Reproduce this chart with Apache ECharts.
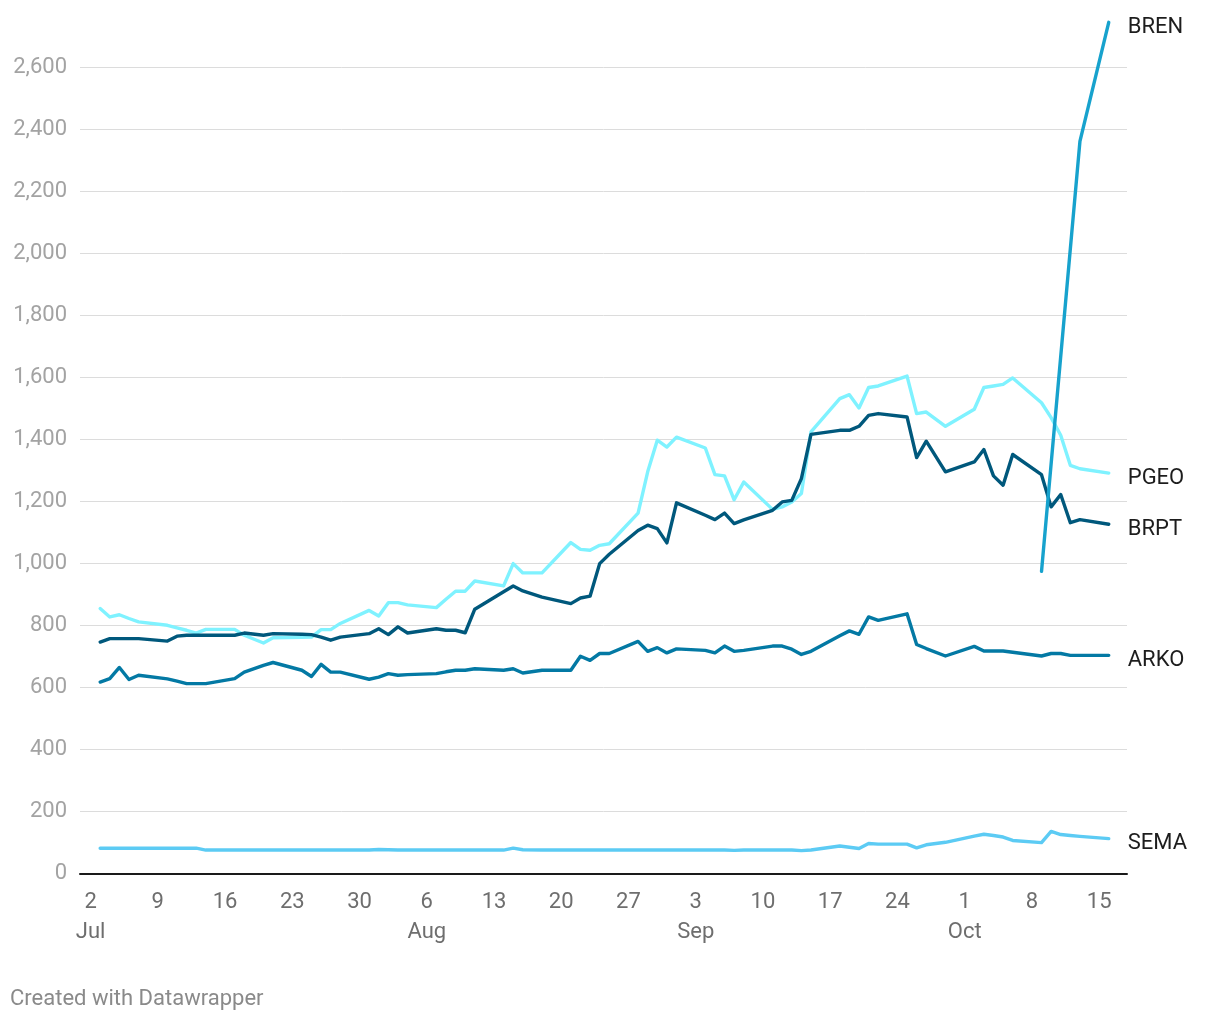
<!DOCTYPE html>
<html>
<head>
<meta charset="utf-8">
<script src="https://cdn.jsdelivr.net/npm/echarts@6/dist/echarts.min.js"></script>
<style>
  html, body { margin: 0; padding: 0; background: #ffffff; }
  #chart { width: 1220px; height: 1020px; }
</style>
</head>
<body>
<div id="chart"></div>
<script>
// ---- Data ----
const dates = [
  '2023-07-03','2023-07-04','2023-07-05','2023-07-06','2023-07-07','2023-07-10','2023-07-11','2023-07-12','2023-07-13','2023-07-14',
  '2023-07-17','2023-07-18','2023-07-20','2023-07-21','2023-07-24','2023-07-25','2023-07-26','2023-07-27','2023-07-28','2023-07-31',
  '2023-08-01','2023-08-02','2023-08-03','2023-08-04','2023-08-07','2023-08-08','2023-08-09','2023-08-10','2023-08-11','2023-08-14',
  '2023-08-15','2023-08-16','2023-08-18','2023-08-21','2023-08-22','2023-08-23','2023-08-24','2023-08-25','2023-08-28','2023-08-29',
  '2023-08-30','2023-08-31',
  '2023-09-01','2023-09-04','2023-09-05','2023-09-06','2023-09-07','2023-09-08','2023-09-11','2023-09-12','2023-09-13','2023-09-14',
  '2023-09-15','2023-09-18','2023-09-19','2023-09-20','2023-09-21','2023-09-22','2023-09-25','2023-09-26','2023-09-27','2023-09-29',
  '2023-10-02','2023-10-03','2023-10-04','2023-10-05','2023-10-06','2023-10-09','2023-10-10','2023-10-11','2023-10-12','2023-10-13',
  '2023-10-16'
];

const PGEO = [
  854,827,834,822,811,800,792,784,775,787,787,768,743,760,761,762,786,786,806,848,
  830,873,873,866,857,884,910,910,943,927,999,969,969,1067,1045,1042,1058,1063,1162,1295,1397,1375,
  1407,1372,1286,1282,1205,1262,1174,1182,1198,1225,1424,1531,1544,1501,1567,1572,1604,1483,1488,1442,
  1497,1567,1572,1577,1598,1518,1470,1413,1316,1305,1291
];
const BRPT = [
  746,757,757,757,757,749,765,768,768,768,768,775,768,773,771,770,762,752,762,773,
  789,770,795,775,789,784,784,776,852,908,927,911,891,870,888,894,999,1029,1106,1123,1112,1066,
  1195,1155,1141,1162,1128,1140,1171,1198,1203,1273,1416,1429,1429,1442,1477,1483,1472,1341,1394,1295,
  1327,1367,1282,1252,1351,1286,1182,1222,1131,1141,1126
];
const ARKO = [
  617,628,664,625,639,627,620,612,612,612,628,649,671,680,655,635,674,649,649,626,
  633,644,639,641,644,650,655,655,660,655,660,646,655,655,700,687,709,709,748,716,728,711,
  724,719,711,733,716,719,733,733,723,706,716,766,782,771,827,816,837,738,725,701,
  732,717,717,717,713,701,709,709,703,703,703
];
const SEMA = [
  81,81,81,81,81,81,81,81,81,75,75,75,75,75,75,75,75,75,75,75,
  77,76,75,75,75,75,75,75,75,75,81,76,75,75,75,75,75,75,75,75,75,75,
  75,75,75,75,74,75,75,75,75,73,75,88,84,80,96,94,94,82,92,100,
  120,126,122,117,106,99,135,125,122,119,112
];
const brenDates = ['2023-10-09','2023-10-13','2023-10-16'];
const BREN = [974, 2361, 2745];

const tickDates = ['2023-07-02','2023-07-09','2023-07-16','2023-07-23','2023-07-30','2023-08-06','2023-08-13','2023-08-20',
  '2023-08-27','2023-09-03','2023-09-10','2023-09-17','2023-09-24','2023-10-01','2023-10-08','2023-10-15'];
const tickDays = ['2','9','16','23','30','6','13','20','27','3','10','17','24','1','8','15'];
const tickMonths = ['Jul','','','','','Aug','','','','Sep','','','','Oct','',''];

// ---- helpers ----
const DAY0 = Date.UTC(2023, 6, 2);
function dayIndex(s) {
  const p = s.split('-').map(Number);
  return Math.round((Date.UTC(p[0], p[1] - 1, p[2]) - DAY0) / 86400000);
}
function pairs(ds, vs) { return ds.map((d, i) => [dayIndex(d), vs[i]]); }
const tickIdx = tickDates.map(dayIndex);

const FONT = 'Roboto, "Noto Sans", sans-serif';

function mk(name, color, ds, vs) {
  return {
    name: name,
    type: 'line',
    data: pairs(ds, vs),
    symbol: 'none',
    showSymbol: false,
    clip: false,
    connectNulls: true,
    lineStyle: { color: color, width: 3.4, join: 'round', cap: 'round' },
    itemStyle: { color: color },
    emphasis: { disabled: true },
    endLabel: {
      show: true,
      formatter: '{a}',
      color: '#1d1d1d',
      fontSize: 22,
      fontFamily: FONT,
      distance: 19,
      offset: [0, 5]
    },
    animation: false
  };
}

const chart = echarts.init(document.getElementById('chart'), null, { renderer: 'canvas' });
chart.setOption({
  backgroundColor: '#ffffff',
  animation: false,
  textStyle: { fontFamily: FONT },
  grid: { left: 80, right: 93, top: 67.3, bottom: 146.7, containLabel: false },
  xAxis: {
    type: 'value',
    min: -1.1,
    max: 107.9,
    axisLine: { show: true, onZero: true, lineStyle: { color: '#1a1a1a', width: 2 } },
    axisTick: { show: false },
    splitLine: { show: false },
    axisLabel: {
      customValues: tickIdx,
      color: '#6e6e6e',
      fontSize: 22,
      fontFamily: FONT,
      lineHeight: 30,
      margin: 14,
      formatter: function (v) {
        const i = tickIdx.indexOf(Math.round(v));
        if (i < 0) return '';
        return tickMonths[i] ? tickDays[i] + '\n' + tickMonths[i] : tickDays[i];
      }
    }
  },
  yAxis: {
    type: 'value',
    min: 0,
    max: 2600,
    interval: 200,
    axisLine: { show: false },
    axisTick: { show: false },
    splitLine: { show: true, lineStyle: { color: '#dcdcdc', width: 1 } },
    axisLabel: {
      color: '#a3a3a3',
      fontSize: 22,
      fontFamily: FONT,
      margin: 13,
      padding: [2, 0, 0, 0],
      formatter: function (v) { return v.toLocaleString('en-US'); }
    }
  },
  series: [
    mk('SEMA', '#5ccbf4', dates, SEMA),
    mk('ARKO', '#0379a4', dates, ARKO),
    mk('PGEO', '#7ff2ff', dates, PGEO),
    mk('BRPT', '#00587c', dates, BRPT),
    mk('BREN', '#17a2cd', brenDates, BREN)
  ],
  graphic: [{
    type: 'text',
    left: 10,
    top: 988,
    style: { text: 'Created with Datawrapper', fill: '#8a8a8a', font: '22px ' + FONT }
  }]
});
</script>
</body>
</html>
